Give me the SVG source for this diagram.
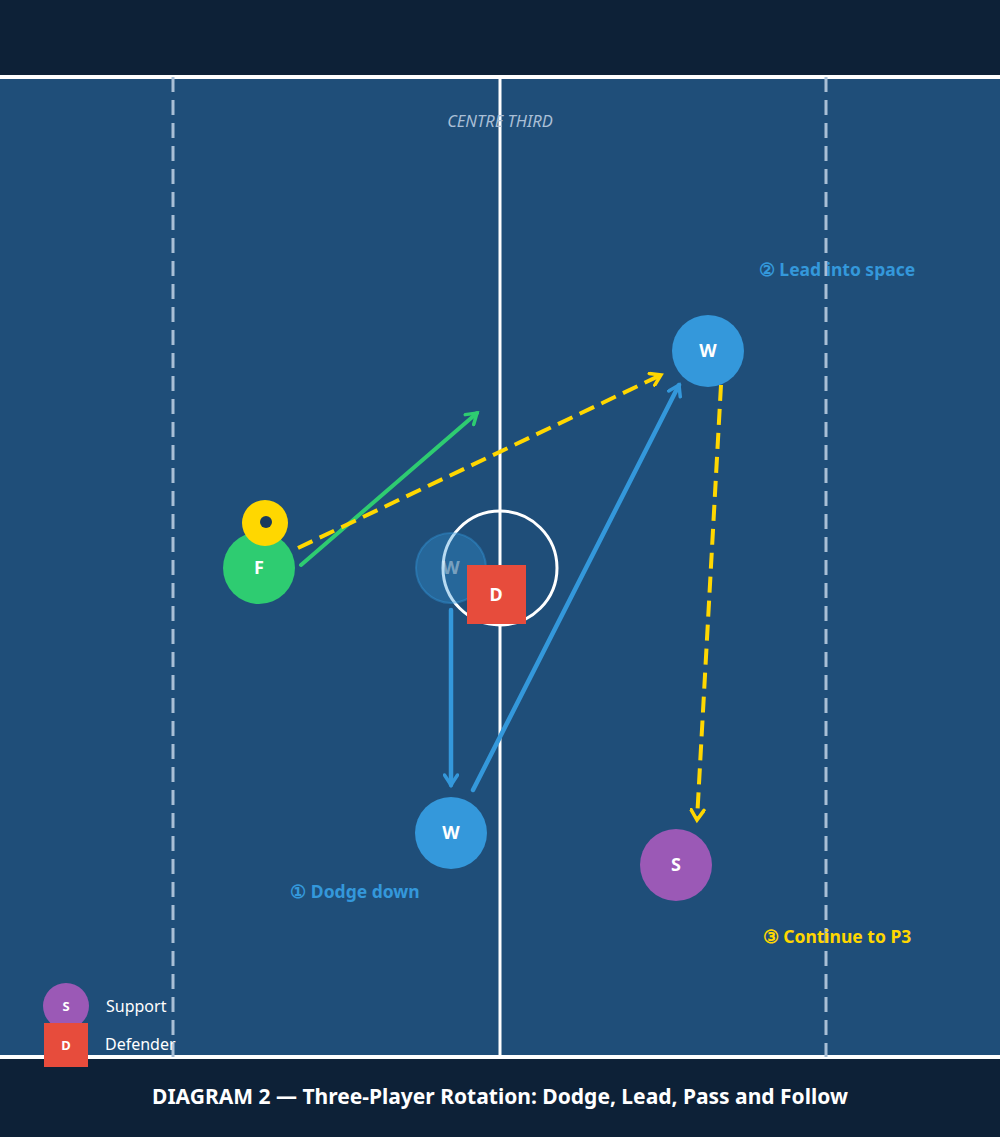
<svg xmlns="http://www.w3.org/2000/svg" width="1000" height="1137" viewBox="0 0 1000 1137">
<style>
text{font-family:"Noto Sans","Open Sans",sans-serif;font-weight:bold}
.lbl{fill:#fff;font-size:18px;text-anchor:middle}
.leg{fill:#fff;font-size:16px;font-weight:normal}
.cap{font-size:17.5px;text-anchor:middle}
</style>
<defs>
<marker id="ab" viewBox="0 0 16 16" refX="12" refY="8" markerWidth="16" markerHeight="16" markerUnits="userSpaceOnUse" orient="auto"><path d="M2,1.5 L12,8 L2,14.5" fill="none" stroke="#3498db" stroke-width="3.5" stroke-linecap="round"/></marker>
<marker id="ag" viewBox="0 0 16 16" refX="12" refY="8" markerWidth="16" markerHeight="16" markerUnits="userSpaceOnUse" orient="auto"><path d="M2,1.5 L12,8 L2,14.5" fill="none" stroke="#2ecc71" stroke-width="3.5" stroke-linecap="round"/></marker>
<marker id="ay" viewBox="0 0 16 16" refX="12" refY="8" markerWidth="16" markerHeight="16" markerUnits="userSpaceOnUse" orient="auto"><path d="M2,1.5 L12,8 L2,14.5" fill="none" stroke="#ffd700" stroke-width="3.5" stroke-linecap="round"/></marker>
</defs>
<rect width="1000" height="1137" fill="#0d2137"/>
<rect x="0" y="77" width="1000" height="980" fill="#1f4e79"/>
<line x1="0" y1="77" x2="1000" y2="77" stroke="#fff" stroke-width="4"/>
<line x1="0" y1="1057" x2="1000" y2="1057" stroke="#fff" stroke-width="4"/>
<line x1="500" y1="77" x2="500" y2="1057" stroke="#fff" stroke-width="3"/>
<line x1="173" y1="77" x2="173" y2="1057" stroke="#a9bfd6" stroke-width="3" stroke-dasharray="15,8"/>
<line x1="826" y1="77" x2="826" y2="1057" stroke="#a9bfd6" stroke-width="3" stroke-dasharray="15,8"/>
<circle cx="500" cy="568" r="57" fill="none" stroke="#fff" stroke-width="3"/>
<text x="500" y="127" fill="#a9bfd6" font-size="16.5" style="font-style:italic;font-weight:normal" text-anchor="middle">CENTRE THIRD</text>
<g id="ghost"><circle cx="451" cy="568" r="35" fill="#3498db" fill-opacity="0.35" stroke="#3498db" stroke-opacity="0.4" stroke-width="2"/><text class="lbl" x="451" y="574" fill-opacity="0.4">W</text></g>
<g id="connectors" fill="none" stroke-linecap="round">
<line x1="451" y1="610" x2="451" y2="785" stroke="#3498db" stroke-width="4.5" marker-end="url(#ab)"/>
<line x1="473" y1="790" x2="679" y2="385" stroke="#3498db" stroke-width="4.5" marker-end="url(#ab)"/>
<line x1="301" y1="565" x2="477" y2="413" stroke="#2ecc71" stroke-width="4" marker-end="url(#ag)"/>
<line x1="298" y1="548" x2="661" y2="375" stroke="#ffd700" stroke-width="4" stroke-dasharray="16,8" stroke-linecap="butt" marker-end="url(#ay)"/>
<line x1="721" y1="385" x2="697" y2="820" stroke="#ffd700" stroke-width="4" stroke-dasharray="16,8" stroke-linecap="butt" marker-end="url(#ay)"/>
</g>
<g id="F"><circle cx="259" cy="568" r="36" fill="#2ecc71"/><text class="lbl" x="259" y="574">F</text></g>
<g id="ball"><circle cx="265" cy="523" r="23" fill="#ffd700"/><circle cx="266" cy="522" r="6" fill="#1a3a5c"/></g>
<g id="D"><rect x="467" y="565" width="59" height="59" fill="#e74c3c"/><text class="lbl" x="496" y="601">D</text></g>
<g id="W1"><circle cx="708" cy="351" r="36" fill="#3498db"/><text class="lbl" x="708" y="357">W</text></g>
<g id="W2"><circle cx="451" cy="833" r="36" fill="#3498db"/><text class="lbl" x="451" y="839">W</text></g>
<g id="S"><circle cx="676" cy="865" r="36" fill="#9b59b6"/><text class="lbl" x="676" y="871">S</text></g>
<text class="cap" x="837" y="276" fill="#3498db">② Lead into space</text>
<text class="cap" x="355" y="898" fill="#3498db">① Dodge down</text>
<text class="cap" x="837" y="943" fill="#ffd700">③ Continue to P3</text>
<g id="legend">
<circle cx="66" cy="1006" r="23" fill="#9b59b6"/><text x="66" y="1011" fill="#fff" font-size="13" text-anchor="middle">S</text>
<text class="leg" x="106" y="1012">Support</text>
<rect x="44" y="1023" width="44" height="44" fill="#e74c3c"/><text x="66" y="1050" fill="#fff" font-size="13" text-anchor="middle">D</text>
<text class="leg" x="105" y="1050">Defender</text>
</g>
<text x="500" y="1104" fill="#fff" font-size="21" text-anchor="middle">DIAGRAM 2 — Three-Player Rotation: Dodge, Lead, Pass and Follow</text>
</svg>
